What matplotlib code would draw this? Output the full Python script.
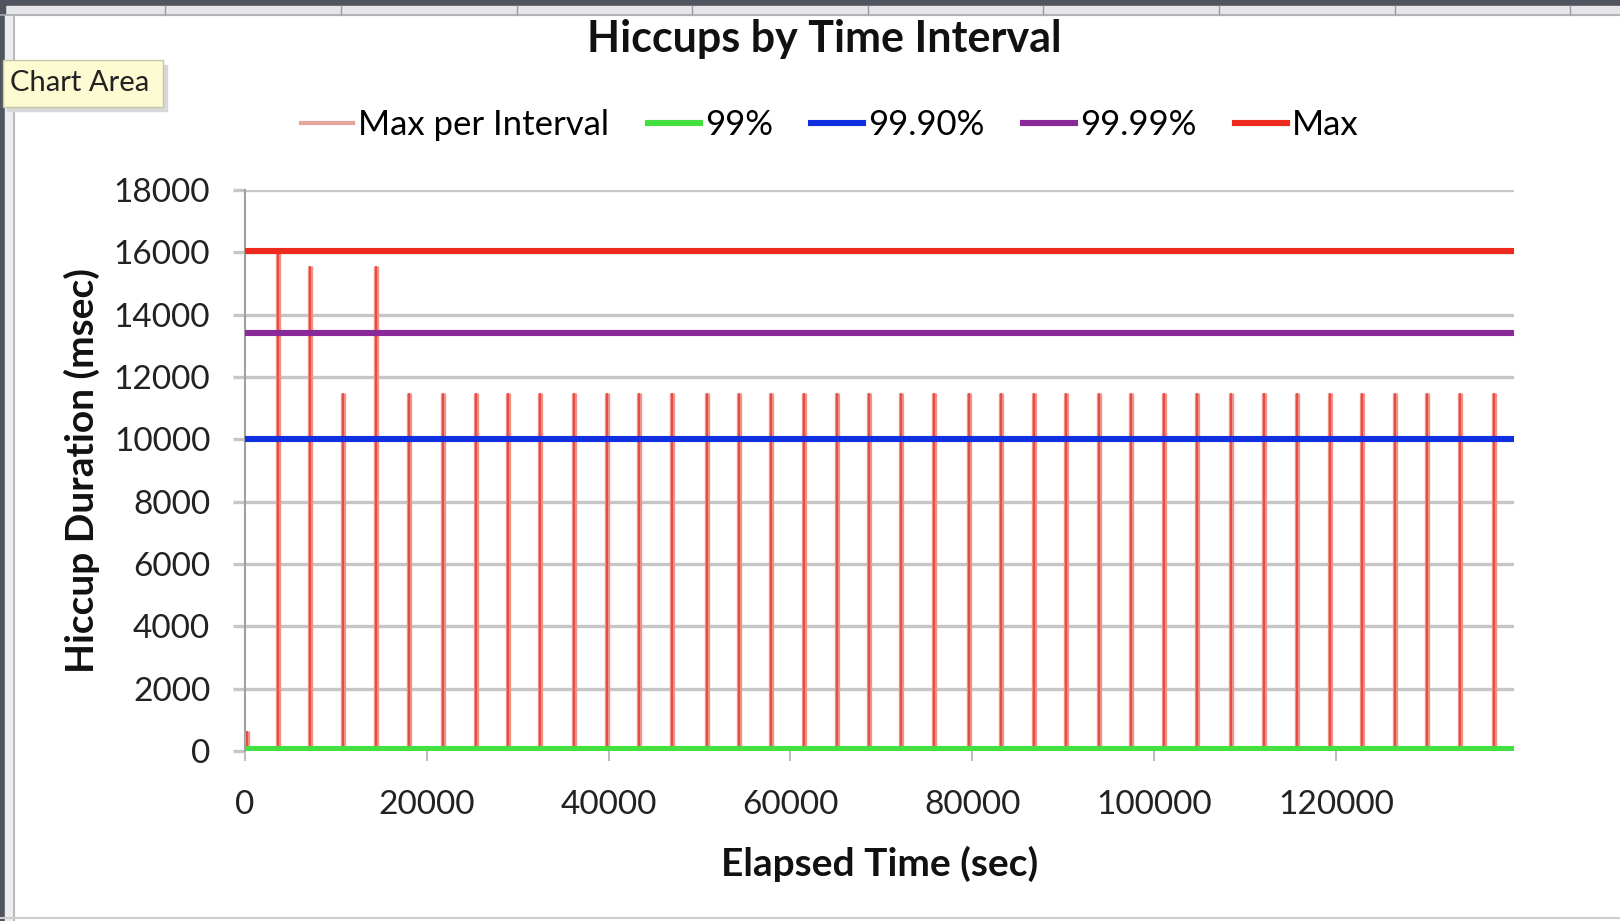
import numpy as np
import matplotlib.pyplot as plt
from matplotlib.patches import Rectangle

plt.rcParams['font.family'] = ['Lato', 'DejaVu Sans']

# --- data ---
spike_x = [200, 3640, 7160, 10800, 14430, 18070, 21820, 25450, 28980, 32500,
           36140, 39770, 43300, 46930, 50800, 54320, 57840, 61480, 65110,
           68640, 72160, 75800, 79660, 83180, 86820, 90340, 93980, 97500,
           101140, 104770, 108520, 112050, 115680, 119320, 122840, 126480,
           130000, 133640, 137390]
spike_y = [650, 16050, 15550, 11500, 15550, 11500, 11500, 11500, 11500, 11500,
           11500, 11500, 11500, 11500, 11500, 11500, 11500, 11500, 11500,
           11500, 11500, 11500, 11500, 11500, 11500, 11500, 11500, 11500,
           11500, 11500, 11500, 11500, 11500, 11500, 11500, 11500,
           11500, 11500, 11500]

pct_labels = ['99%', '99.90%', '99.99%', 'Max']
pct_values = [60, 10000, 13420, 16050]
pct_colors = ['#44e040', '#1030e0', '#8a2a9a', '#ee2a1c']

x_max = 139600
y_ticks = [0, 2000, 4000, 6000, 8000, 10000, 12000, 14000, 16000, 18000]
x_ticks = [0, 20000, 40000, 60000, 80000, 100000, 120000]

W, H = 1620, 921
fig = plt.figure(figsize=(W / 100, H / 100), dpi=100)
fig.patch.set_facecolor('white')

# spreadsheet frame around the chart
fig.add_artist(Rectangle((0, 1 - 6 / H), 1, 6 / H, transform=fig.transFigure,
                         color='#50545f', zorder=0))
fig.add_artist(Rectangle((0, 1 - 15 / H), 1, 9 / H, transform=fig.transFigure,
                         color='#e6e6e8', zorder=0))
for cx in [165, 341, 517, 692, 868, 1043, 1219, 1395, 1570]:
    fig.add_artist(plt.Line2D([cx / W, cx / W], [1 - 15 / H, 1 - 6 / H],
                              transform=fig.transFigure, color='#9a9aa0', lw=1))
fig.add_artist(plt.Line2D([0, 1], [1 - 15 / H, 1 - 15 / H],
                          transform=fig.transFigure, color='#a8a8ad', lw=1.2))
fig.add_artist(Rectangle((0, 0), 5 / W, 1, transform=fig.transFigure,
                         color='#50545f', zorder=0))
fig.add_artist(Rectangle((5 / W, 0), 9 / W, 1 - 15 / H, transform=fig.transFigure,
                         color='#eeeef0', zorder=0))
fig.add_artist(plt.Line2D([14 / W, 14 / W], [0, 1 - 15 / H],
                          transform=fig.transFigure, color='#b0b0b5', lw=1.2))
fig.add_artist(plt.Line2D([0, 1], [3 / H, 3 / H],
                          transform=fig.transFigure, color='#cfcfd2', lw=1.5))

ax = fig.add_axes([245 / W, 1 - 751 / H, 1269 / W, 561 / H])
ax.set_xlim(0, x_max)
ax.set_ylim(0, 18000)

ax.set_yticks(y_ticks)
ax.set_xticks(x_ticks)
ax.grid(axis='y', color='#c6c6c6', lw=2.4, zorder=0)
for s in ['top', 'right', 'bottom']:
    ax.spines[s].set_visible(False)
ax.spines['left'].set_color('#a0a0a0')
ax.spines['left'].set_linewidth(1.5)
ax.tick_params(axis='y', length=9, width=2.4, color='#c6c6c6', pad=16,
               labelsize=24, labelcolor='#222222')
ax.tick_params(axis='x', length=7, width=1.2, color='#b0b0b0', pad=21,
               labelsize=24, labelcolor='#222222')

# max per interval: spikes with a darker core
ax.vlines(spike_x, 0, spike_y, color='#f29088', lw=3.8, zorder=3)
ax.vlines(spike_x, 0, spike_y, color='#e23a30', lw=1.1, zorder=3)
legend_handles = [plt.Line2D([], [], color='#e6a49a', lw=3)]

for lab, val, col in zip(pct_labels, pct_values, pct_colors):
    ax.axhline(val, color=col, lw=4.4, zorder=4)
    legend_handles.append(plt.Line2D([], [], color=col, lw=4.4))

fig.legend(legend_handles, ['Max per Interval'] + pct_labels,
           loc='center', bbox_to_anchor=(830 / W, 1 - 125 / H), ncol=5,
           frameon=False, fontsize=25, handlelength=1.5, handletextpad=0.15,
           columnspacing=1.1)

fig.text(824 / W, 1 - 39 / H, 'Hiccups by Time Interval', ha='center',
         va='center', fontsize=31, fontweight='bold', color='#111111')
ax.set_xlabel('Elapsed Time (sec)', fontsize=28, fontweight='bold',
              color='#111111', labelpad=19)
ax.set_ylabel('Hiccup Duration (msec)', fontsize=28, fontweight='bold',
              color='#111111', labelpad=10)

# "Chart Area" tooltip
fig.add_artist(Rectangle((7 / W, 1 - 111 / H), 160 / W, 46 / H,
                         transform=fig.transFigure, color='#d8d8d8', zorder=5))
fig.add_artist(Rectangle((3 / W, 1 - 107 / H), 160 / W, 47 / H,
                         transform=fig.transFigure, facecolor='#fdfbd2',
                         edgecolor='#c8c6a8', lw=1, zorder=6))
fig.text(10 / W, 1 - 83 / H, 'Chart Area', ha='left', va='center',
         fontsize=21, color='#222222', zorder=7)

plt.savefig('out.png', dpi=100)
